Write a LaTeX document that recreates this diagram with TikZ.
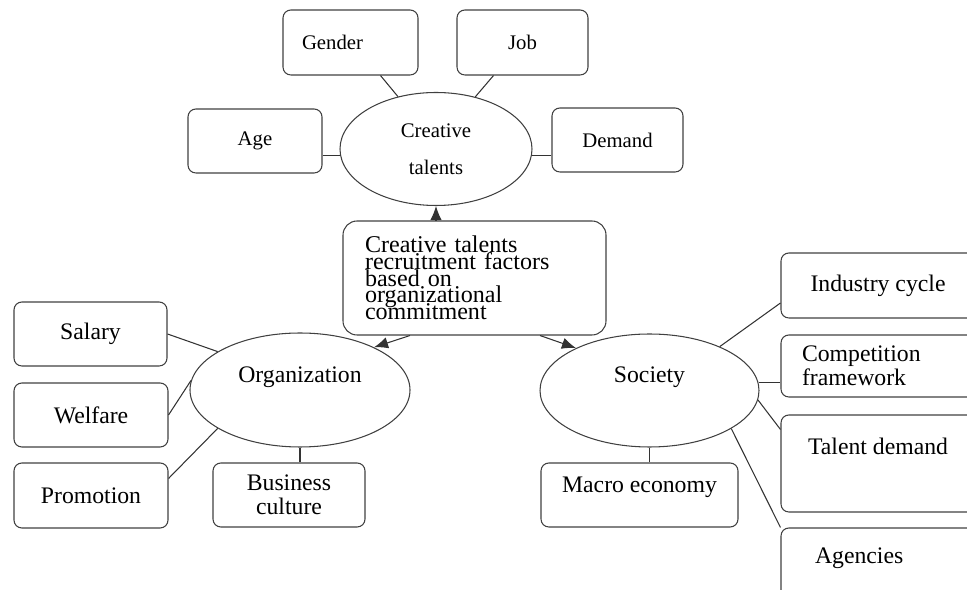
\documentclass[tikz,border=0pt]{standalone}
\usepackage{fontspec}
\setmainfont{Liberation Serif}
\usetikzlibrary{shapes.geometric,calc,arrows.meta}
\newcommand{\tightlines}{\fontsize{13.7}{9.5}\selectfont\lineskiplimit -20pt\relax}

\begin{document}
\begin{tikzpicture}[x=0.02cm,y=-0.02cm,
		wh/.style 2 args={minimum width=#1*0.02cm, minimum height=#2*0.02cm},
		factor/.style={draw=black!75, line width=0.6pt, rectangle, rounded corners=4.5, align=center, font=\fontsize{13.5}{13.5}\selectfont},
		topfactor/.style={factor, font=\fontsize{11.8}{14}\selectfont},
		group/.style={draw=black!75, line width=0.6pt, ellipse, align=center, font=\fontsize{13.5}{13.5}\selectfont},
		link/.style={draw=black!80, line width=0.6pt},
		push/.style={link, -{Latex[length=8pt,width=6.5pt]}}]
		\useasboundingbox (0,0) rectangle (967,590);
		\clip (0,0) rectangle (967,590);

		\node[topfactor, wh={135}{65}, text width=1.94cm, align=left] at (350.5,42.5)(gender){Gender};
		\node[topfactor, wh={131}{65}] at (522.5,42.5)(job){Job};
		\node[topfactor, wh={134}{64}] at (255,141)(age){Age};
		\node[topfactor, wh={131}{64}] at (617.5,140)(demand){Demand};
		\node[group, wh={192}{113}, font=\fontsize{11.8}{14}\selectfont] at (436,149)(creative){Creative\\[7pt]talents};
		\path[link] ($(gender.south)+(30,0)$) edge (creative.126)
			($(job.south)+(-29,0)$) edge (creative.53)
			(age.east |- creative.184) edge (creative.184)
			(demand.west |- creative.-4) edge (creative.-4);

		\node[factor, rounded corners=8, wh={263}{114}, text width=4.38cm, align=left,
			font=\tightlines] at (474.5,278)(centre)
			{Creative talents\\recruitment factors\\based on\\organizational\\commitment};

		\node[group, wh={220}{114}, text depth=0.62cm] at (300,390)(organization){Organization};
		\node[factor, wh={153}{64}] at (90.5,334)(salary){Salary};
		\node[factor, wh={154}{64}] at (91,415)(welfare){Welfare};
		\node[factor, wh={154}{65}] at (91,495.5)(promotion){Promotion};
		\node[factor, wh={152}{64}] at (289,495)(business){Business\\culture};
		\path[link] (salary.east) edge (organization.155)
			(welfare.east) edge (organization.175)
			($(promotion.east)+(0,-17)$) edge (organization.205)
			(organization.south) edge (organization.south |- business.north);

		\node[group, wh={219}{113}, text depth=0.62cm] at (649.5,390.5)(society){Society};
		\node[factor, wh={197}{64}, text depth=0.42cm] at (639.5,495)(macro){Macro economy};
		\node[factor, wh={194}{65}] at (878,285.5)(industry){Industry cycle};
		\node[factor, wh={194}{62}, text width=3.04cm, align=left] at (878,366)(competition){Competition\\framework};
		\node[factor, wh={194}{97}, text depth=0.7cm] at (878,463.5)(talent){Talent demand};
		\node[factor, wh={194}{80}, text depth=0.5cm, text width=2.52cm, align=left] at (878,568)(agencies){Agencies};
		\path[link] (society.south) edge (society.south |- macro.north)
			($(industry.west)+(0,17.5)$) edge (society.32)
			(society.4) edge (society.4 -| competition.west)
			(society.-5) edge ($(talent.north west)+(0,15)$)
			(society.-25) edge (agencies.north west);

		\draw[push] (creative.south |- centre.north) -- (creative.south);
		\draw[push] ($(centre.south)+(-64.5,0)$) -- (organization.30);
		\draw[push] ($(centre.south)+(65.5,0)$) -- (society.150);
	\end{tikzpicture}
\end{document}
